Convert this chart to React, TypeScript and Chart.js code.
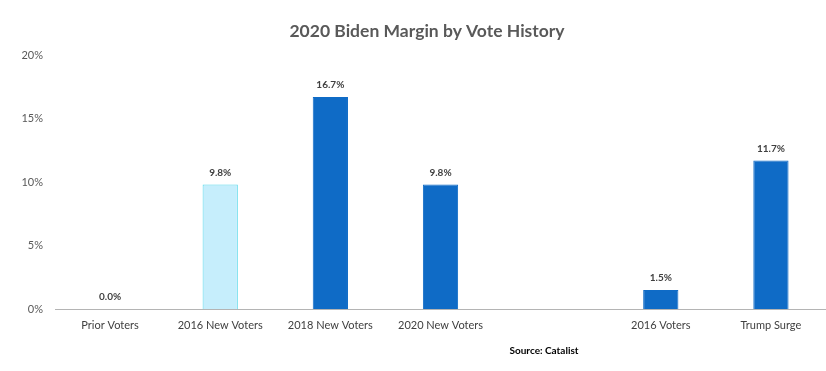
import React, { useEffect, useRef } from "react";
import { Chart, registerables } from "chart.js";

Chart.register(...registerables);

const categories = ["Prior Voters", "2016 New Voters", "2018 New Voters", "2020 New Voters", "", "2016 Voters", "Trump Surge"];
const values: (number | null)[] = [0.0, 9.8, 16.7, 9.8, null, 1.5, 11.7];
const fillColors = ["#0F6BC6", "#C6EEFC", "#0F6BC6", "#0F6BC6", "#0F6BC6", "#0F6BC6", "#0F6BC6"];
const borderColors = ["#0F6BC6", "#55D8EA", "#0F6BC6", "#0F6BC6", "#0F6BC6", "#0F6BC6", "#0F6BC6"];
const yTicks = [0, 5, 10, 15, 20];
const titleText = "2020 Biden Margin by Vote History";
const sourceText = "Source: Catalist";

const FONT = "Lato, 'Open Sans', sans-serif";

const decorPlugin = {
  id: "decor",
  afterDatasetsDraw(chart: any) {
    const ctx = chart.ctx;
    const meta = chart.getDatasetMeta(0);
    ctx.save();
    ctx.font = `bold 10px ${FONT}`;
    ctx.fillStyle = "#404040";
    ctx.textAlign = "center";
    ctx.textBaseline = "middle";
    meta.data.forEach((bar: any, i: number) => {
      const v = values[i];
      if (v === null || v === undefined) return;
      ctx.fillText(v.toFixed(1) + "%", bar.x, bar.y - 12);
    });
    ctx.font = `bold 17.5px ${FONT}`;
    ctx.fillStyle = "#595959";
    ctx.fillText(titleText, 427, 31);
    ctx.font = `bold 10px ${FONT}`;
    ctx.fillStyle = "#000000";
    ctx.fillText(sourceText, 544, 351);
    ctx.restore();
  },
};

export default function App() {
  const ref = useRef<HTMLCanvasElement>(null);
  useEffect(() => {
    if (!ref.current) return;
    const chart = new Chart(ref.current, {
      type: "bar",
      data: {
        labels: categories,
        datasets: [
          {
            data: values,
            backgroundColor: fillColors,
            borderColor: borderColors,
            borderWidth: 1,
            barPercentage: 0.32,
            categoryPercentage: 1,
          },
        ],
      },
      options: {
        animation: false,
        responsive: false,
        maintainAspectRatio: false,
        layout: { padding: { top: 55, left: 0, right: 0, bottom: 0 } },
        plugins: { legend: { display: false }, tooltip: { enabled: false }, title: { display: false } },
        scales: {
          x: {
            grid: { display: false, drawTicks: false },
            border: { display: true, dash: [2, 2], color: "#B4B4B4" },
            ticks: { color: "#404040", font: { family: FONT, size: 11 }, padding: 10, maxRotation: 0, autoSkip: false },
            afterFit: (s: any) => { s.height = 62; },
          },
          y: {
            min: 0,
            max: 20,
            afterBuildTicks: (s: any) => { s.ticks = yTicks.map((v) => ({ value: v })); },
            grid: { display: false, drawTicks: false },
            border: { display: false },
            ticks: { color: "#595959", font: { family: FONT, size: 11 }, padding: 12, callback: (v: any) => v + "%" },
            afterFit: (s: any) => { s.width = 55; },
          },
        },
      },
      plugins: [decorPlugin],
    });
    return () => chart.destroy();
  }, []);
  return (
    <div style={{ position: "fixed", left: 0, top: 0, width: 826, height: 371, background: "#fff" }}>
      <canvas ref={ref} width={826} height={371} style={{ width: 826, height: 371 }} />
    </div>
  );
}
